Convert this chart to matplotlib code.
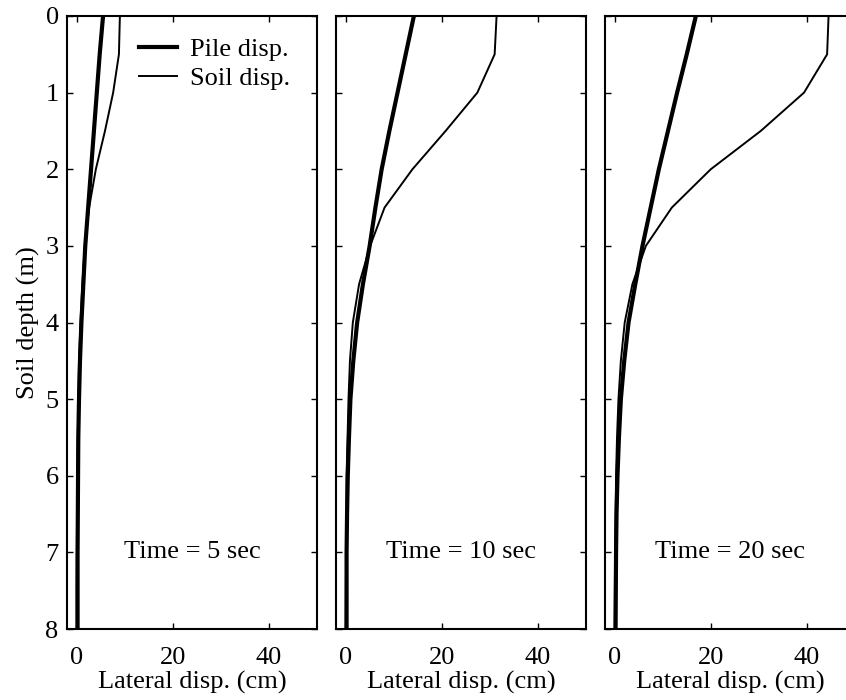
import matplotlib
matplotlib.use("Agg")
import matplotlib.pyplot as plt

plt.rcParams['font.family'] = ['Liberation Serif', 'DejaVu Serif']

# depth below ground surface (m), shared by every profile
depth = [0, 0.5, 1, 1.5, 2, 2.5, 3, 3.5, 4, 4.5, 5, 5.5, 6, 6.5, 7, 7.5, 8]

times = [5, 10, 20]

# lateral displacement (cm) of the pile at each depth
pile_5 = [5.5, 4.8, 4.2, 3.6, 3.0, 2.4, 1.8, 1.4, 1.0, 0.7, 0.5, 0.35, 0.3, 0.25, 0.2, 0.2, 0.2]
pile_10 = [14.2, 12.5, 10.8, 9.1, 7.5, 6.2, 5.0, 3.6, 2.4, 1.6, 1.0, 0.7, 0.45, 0.3, 0.2, 0.2, 0.2]
pile_20 = [16.9, 15.0, 13.0, 11.1, 9.2, 7.5, 5.8, 4.3, 2.9, 2.0, 1.3, 0.9, 0.6, 0.4, 0.3, 0.25, 0.2]

# free-field soil displacement (cm)
soil_5 = [9.0, 8.8, 7.6, 5.9, 4.0, 2.6, 1.7, 1.2, 0.8, 0.5, 0.35, 0.25, 0.15, 0.1, 0.05, 0.0, 0.0]
soil_10 = [31.4, 31.0, 27.4, 20.8, 13.9, 8.1, 5.1, 2.8, 1.5, 0.9, 0.6, 0.4, 0.2, 0.15, 0.1, 0.05, 0.0]
soil_20 = [44.5, 44.2, 39.4, 30.4, 20.0, 11.9, 6.5, 3.7, 2.1, 1.3, 0.8, 0.5, 0.3, 0.2, 0.1, 0.05, 0.0]

pile = [pile_5, pile_10, pile_20]
soil = [soil_5, soil_10, soil_20]

FS = 19

fig = plt.figure(figsize=(8.46, 7.0), dpi=100)
W, H = 846.0, 700.0
lefts = [67, 336, 605]

for i, t in enumerate(times):
    ax = fig.add_axes([lefts[i] / W, 71 / H, 250 / W, 613 / H])
    ax.plot(pile[i], depth, color='black', lw=3.0, label='Pile disp.')
    ax.plot(soil[i], depth, color='black', lw=1.4, label='Soil disp.')
    ax.set_xlim(-2, 50)
    ax.set_ylim(8, 0)
    ax.set_xticks([0, 20, 40])
    ax.set_yticks(range(0, 9))
    ax.tick_params(direction='in', length=4, width=1, top=True, right=True,
                   labelsize=FS)
    ax.tick_params(axis='x', pad=13)
    ax.tick_params(axis='y', pad=6)
    for sp in ax.spines.values():
        sp.set_linewidth(1.5)
    ax.set_xlabel('Lateral disp. (cm)', fontsize=FS, labelpad=1)
    ax.text(24, 7, 'Time = %d sec' % t, fontsize=FS, ha='center', va='center')
    if i == 0:
        ax.set_ylabel('Soil depth (m)', fontsize=FS, labelpad=4)
        ax.legend(loc='upper right', bbox_to_anchor=(0.968, 0.995),
                  frameon=False, fontsize=FS, handlelength=1.45,
                  handletextpad=0.5, labelspacing=0.22, borderaxespad=0.3)
    else:
        ax.set_yticklabels([])

fig.savefig('out.png', dpi=100)
